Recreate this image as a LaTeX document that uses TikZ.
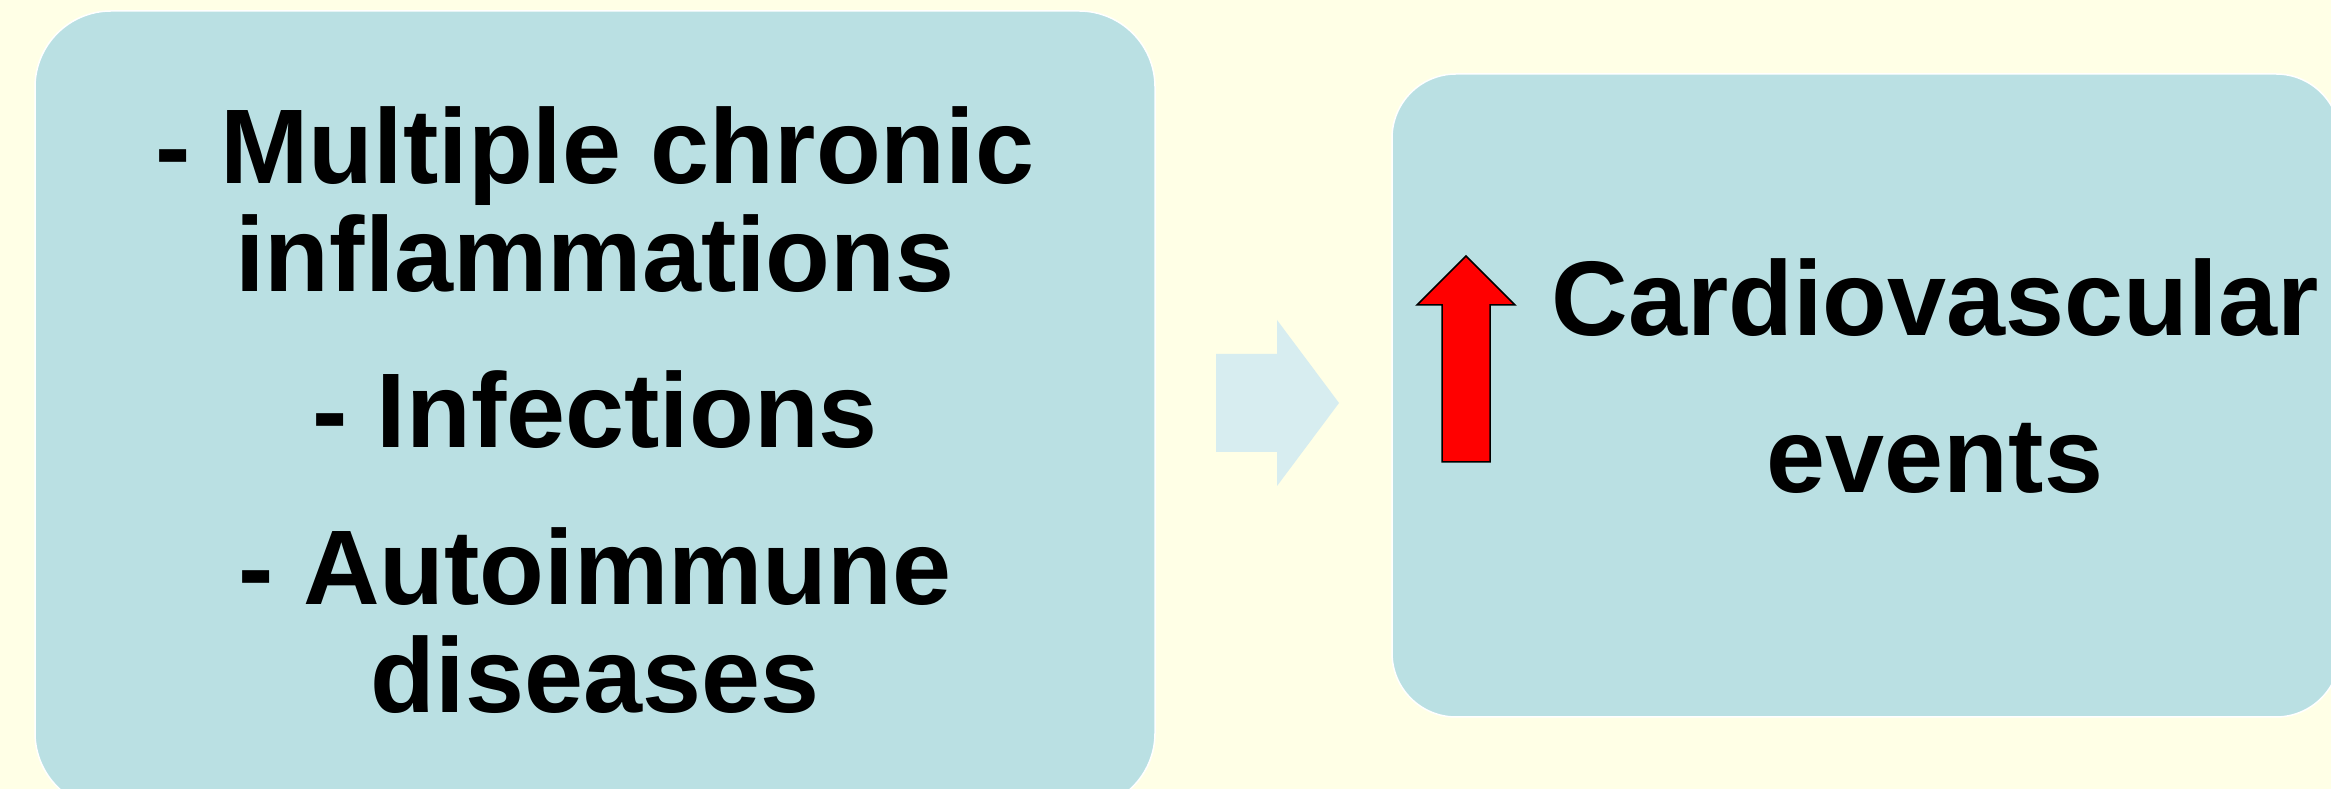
\documentclass[tikz,border=0pt]{standalone}
\usepackage{fontspec}
\setmainfont{Liberation Sans}
\definecolor{pagebg}{HTML}{FFFFE6}
\definecolor{panelfill}{HTML}{BAE0E3}
\definecolor{arrowfill}{HTML}{D7EDF0}
\tikzset{
  panel/.style={fill=panelfill, draw=white, line width=0.015cm},
  bigtext/.style={font=\bfseries\fontsize{30.17pt}{30.6pt}\selectfont, align=center, text=black}
}
\begin{document}
\begin{tikzpicture}[x=0.01cm, y=-0.01cm]
      \useasboundingbox (0, 0) rectangle (2331, 789);
      \clip (0, 0) rectangle (2331, 789);
      \fill [pagebg] (0, 0) rectangle (2331, 789);
      \draw [panel, rounded corners=0.76cm] (35, 11) rectangle (1155, 809);
      \draw [panel, rounded corners=0.64cm] (1392, 74) rectangle (2340, 717);
      \fill [arrowfill] (1216, 354) -- (1277, 354) -- (1277, 320) -- (1339, 403)
        -- (1277, 486) -- (1277, 452) -- (1216, 452) -- cycle;
      \draw [fill=red, line width=0.015cm] (1442, 462) -- (1442, 305) -- (1417, 305)
        -- (1466, 256) -- (1515, 305) -- (1490, 305) -- (1490, 462) -- cycle;
      \node [bigtext] (causes) at (595, 410) {- Multiple chronic\\inflammations\\[14pt]- Infections\\[14pt]- Autoimmune\\diseases};
      \node [bigtext] (outcome) at (1935, 376) {Cardiovascular\\[14pt]events};
    \end{tikzpicture}
\end{document}
